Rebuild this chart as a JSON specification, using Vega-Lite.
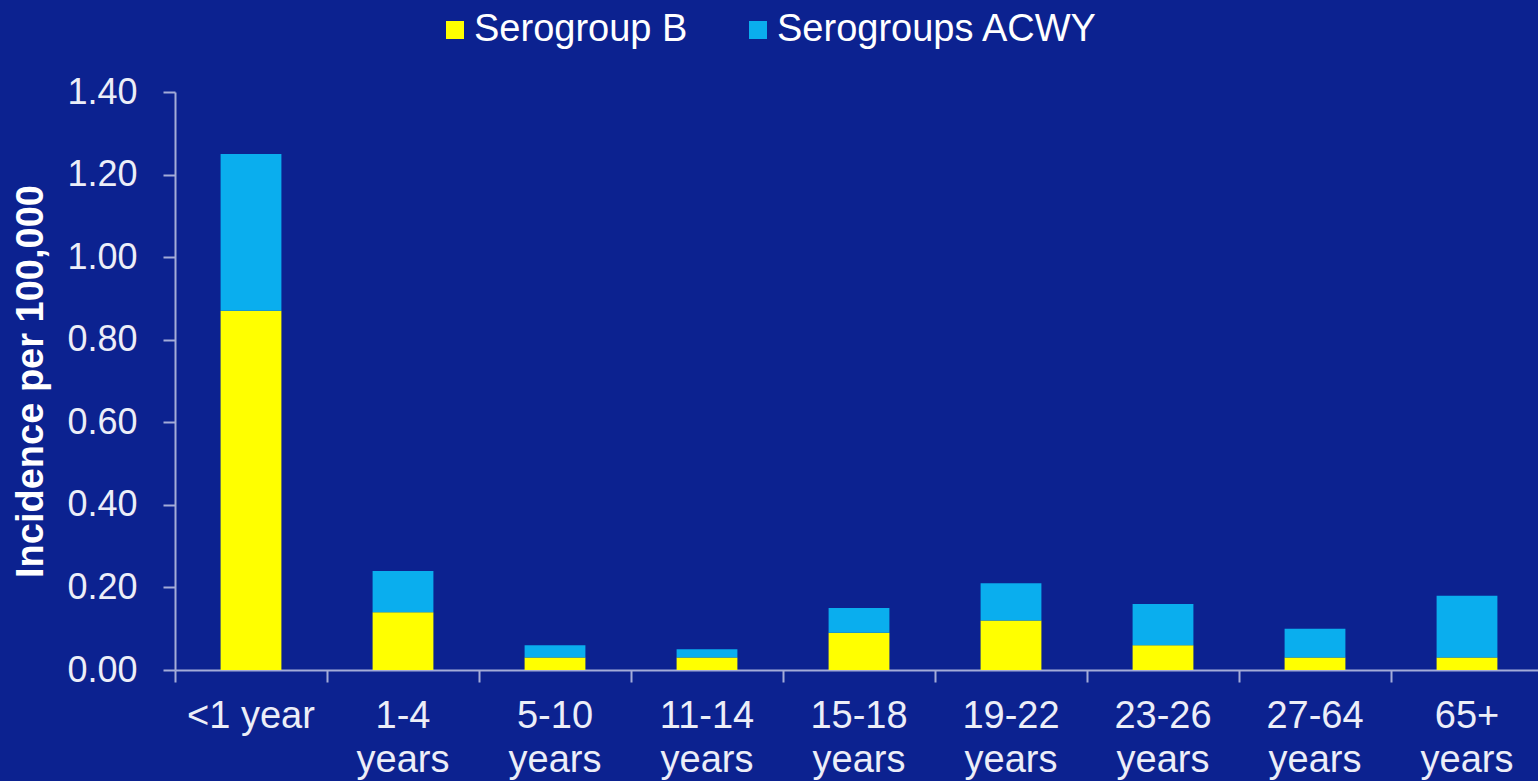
{
  "$schema": "https://vega.github.io/schema/vega-lite/v6.json",
  "autosize": {"type": "none"},
  "padding": {"left": 175, "top": 92, "right": 0, "bottom": 111},
  "width": 1368,
  "height": 578,
  "background": "#0c2290",
  "config": {
    "font": "Liberation Sans",
    "view": {"stroke": null},
    "axis": {
      "domainColor": "#a4acd8",
      "domainWidth": 2,
      "tickColor": "#a4acd8",
      "tickWidth": 2,
      "tickSize": 12,
      "labelColor": "#eceef8",
      "labelFont": "Liberation Sans",
      "grid": false
    }
  },
  "data": {
    "values": [
      {"age": "<1 year", "serogroup": "Serogroup B", "incidence": 0.87},
      {"age": "<1 year", "serogroup": "Serogroups ACWY", "incidence": 0.38},
      {"age": "1-4 years", "serogroup": "Serogroup B", "incidence": 0.14},
      {"age": "1-4 years", "serogroup": "Serogroups ACWY", "incidence": 0.10},
      {"age": "5-10 years", "serogroup": "Serogroup B", "incidence": 0.03},
      {"age": "5-10 years", "serogroup": "Serogroups ACWY", "incidence": 0.03},
      {"age": "11-14 years", "serogroup": "Serogroup B", "incidence": 0.03},
      {"age": "11-14 years", "serogroup": "Serogroups ACWY", "incidence": 0.02},
      {"age": "15-18 years", "serogroup": "Serogroup B", "incidence": 0.09},
      {"age": "15-18 years", "serogroup": "Serogroups ACWY", "incidence": 0.06},
      {"age": "19-22 years", "serogroup": "Serogroup B", "incidence": 0.12},
      {"age": "19-22 years", "serogroup": "Serogroups ACWY", "incidence": 0.09},
      {"age": "23-26 years", "serogroup": "Serogroup B", "incidence": 0.06},
      {"age": "23-26 years", "serogroup": "Serogroups ACWY", "incidence": 0.10},
      {"age": "27-64 years", "serogroup": "Serogroup B", "incidence": 0.03},
      {"age": "27-64 years", "serogroup": "Serogroups ACWY", "incidence": 0.07},
      {"age": "65+ years", "serogroup": "Serogroup B", "incidence": 0.03},
      {"age": "65+ years", "serogroup": "Serogroups ACWY", "incidence": 0.15}
    ]
  },
  "mark": {"type": "bar", "width": {"band": 0.4}},
  "encoding": {
    "x": {
      "field": "age",
      "type": "nominal",
      "sort": null,
      "scale": {"paddingInner": 0, "paddingOuter": 0},
      "axis": {
        "title": null,
        "labelAngle": 0,
        "bandPosition": 0,
        "labelFontSize": 38,
        "labelPadding": 15,
        "labelLineHeight": 44,
        "labelBaseline": "top",
        "labelExpr": "datum.label == '<1 year' ? datum.label : split(datum.label, ' ')"
      }
    },
    "y": {
      "field": "incidence",
      "type": "quantitative",
      "stack": "zero",
      "scale": {"domain": [0, 1.4], "nice": false},
      "axis": {
        "title": "Incidence per 100,000",
        "titleFont": "Liberation Sans",
        "titleFontSize": 38,
        "titleFontWeight": "bold",
        "titleColor": "#ffffff",
        "titlePadding": 16,
        "values": [0, 0.2, 0.4, 0.6, 0.8, 1.0, 1.2, 1.4],
        "format": ".2f",
        "labelFontSize": 36,
        "labelPadding": 26
      }
    },
    "color": {
      "field": "serogroup",
      "type": "nominal",
      "scale": {"domain": ["Serogroup B", "Serogroups ACWY"], "range": ["#ffff00", "#0aaeee"]},
      "legend": {
        "title": null,
        "orient": "none",
        "direction": "horizontal",
        "legendX": 261,
        "legendY": -81,
        "symbolType": "square",
        "symbolSize": 324,
        "symbolStrokeWidth": 0,
        "labelFontSize": 38,
        "labelColor": "#ffffff",
        "labelLimit": 0,
        "labelOffset": 0,
        "columnPadding": 51,
        "padding": 0
      }
    },
    "order": {"field": "serogroup", "sort": "ascending"}
  }
}
